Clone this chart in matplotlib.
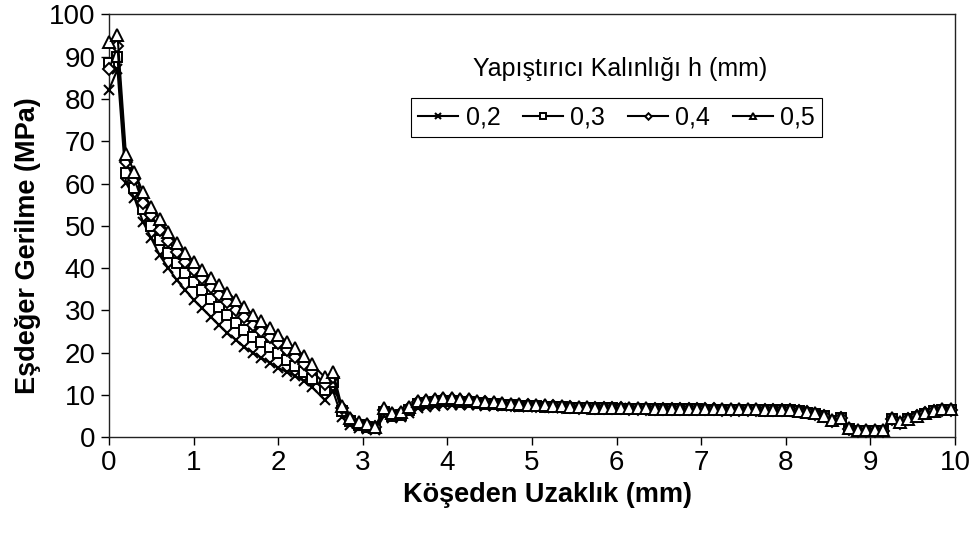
import matplotlib
matplotlib.use("Agg")
import matplotlib.pyplot as plt

plt.rcParams["font.family"] = ["Liberation Sans", "DejaVu Sans"]

# distance from the corner (mm)
x_mm = [0.0, 0.1, 0.2, 0.3, 0.4, 0.5, 0.6, 0.7, 0.8, 0.9,
        1.0, 1.1, 1.2, 1.3, 1.4, 1.5, 1.6, 1.7, 1.8, 1.9,
        2.0, 2.1, 2.2, 2.3, 2.4, 2.55, 2.65, 2.75, 2.85, 2.95,
        3.05, 3.15, 3.25, 3.35, 3.45, 3.55, 3.65, 3.75, 3.85, 3.95,
        4.05, 4.15, 4.25, 4.35, 4.45, 4.55, 4.65, 4.75, 4.85, 4.95,
        5.05, 5.15, 5.25, 5.35, 5.45, 5.55, 5.65, 5.75, 5.85, 5.95,
        6.05, 6.15, 6.25, 6.35, 6.45, 6.55, 6.65, 6.75, 6.85, 6.95,
        7.05, 7.15, 7.25, 7.35, 7.45, 7.55, 7.65, 7.75, 7.85, 7.95,
        8.05, 8.15, 8.25, 8.35, 8.45, 8.55, 8.65, 8.75, 8.85, 8.95,
        9.05, 9.15, 9.25, 9.35, 9.45, 9.55, 9.65, 9.75, 9.85, 9.95]

# equivalent stress (MPa) for each adhesive thickness
h02 = [82.2, 87.0, 60.2, 56.6, 51.0, 47.0, 43.0, 40.0, 37.2, 34.8,
       32.5, 30.5, 28.5, 26.5, 24.6, 23.0, 21.3, 20.0, 18.8, 17.6,
       16.4, 15.4, 14.5, 13.3, 11.8, 8.8, 10.8, 4.8, 2.9, 2.2,
       1.9, 1.6, 5.0, 4.5, 4.8, 5.8, 6.9, 7.2, 7.4, 7.6,
       7.7, 7.6, 7.7, 7.5, 7.4, 7.4, 7.3, 7.3, 7.2, 7.2,
       7.1, 7.1, 7.0, 7.0, 7.0, 6.9, 6.9, 6.9, 6.8, 6.8,
       6.8, 6.7, 6.7, 6.7, 6.7, 6.6, 6.6, 6.6, 6.6, 6.6,
       6.5, 6.5, 6.5, 6.5, 6.5, 6.5, 6.4, 6.4, 6.3, 6.3,
       6.3, 6.1, 5.8, 5.5, 4.9, 3.9, 4.4, 1.9, 1.5, 1.5,
       1.5, 1.5, 4.2, 3.3, 4.1, 4.8, 5.5, 6.0, 6.4, 6.4]
h03 = [88.6, 90.0, 62.5, 59.0, 54.0, 50.0, 46.7, 43.6, 41.2, 38.9,
       36.7, 34.8, 32.7, 30.8, 29.0, 27.1, 25.4, 23.8, 22.5, 21.3,
       19.9, 18.3, 16.8, 15.3, 13.8, 11.1, 13.0, 6.2, 3.8, 2.8,
       2.5, 2.1, 6.0, 5.1, 5.3, 6.4, 7.8, 8.1, 8.3, 8.5,
       8.5, 8.3, 8.4, 8.1, 7.9, 7.8, 7.6, 7.5, 7.4, 7.4,
       7.3, 7.2, 7.2, 7.1, 7.0, 7.0, 6.9, 6.9, 6.8, 6.8,
       6.7, 6.7, 6.7, 6.6, 6.6, 6.6, 6.6, 6.6, 6.6, 6.6,
       6.5, 6.5, 6.5, 6.5, 6.5, 6.5, 6.5, 6.4, 6.4, 6.4,
       6.3, 6.1, 5.8, 5.5, 4.9, 3.9, 4.4, 2.0, 1.5, 1.5,
       1.5, 1.5, 4.3, 3.4, 4.2, 4.8, 5.5, 6.1, 6.4, 6.5]
h04 = [87.0, 92.5, 65.0, 61.0, 55.5, 52.5, 49.0, 46.5, 43.8, 41.5,
       39.5, 37.6, 35.6, 33.7, 32.0, 30.1, 28.4, 26.6, 25.0, 23.7,
       22.3, 20.5, 19.0, 17.4, 15.6, 12.6, 14.2, 6.8, 4.2, 3.1,
       2.8, 2.3, 6.4, 5.4, 5.6, 6.8, 8.2, 8.5, 8.7, 8.9,
       8.9, 8.7, 8.7, 8.4, 8.2, 8.0, 7.8, 7.7, 7.6, 7.5,
       7.4, 7.4, 7.3, 7.2, 7.1, 7.0, 7.0, 6.9, 6.9, 6.8,
       6.8, 6.7, 6.7, 6.7, 6.7, 6.6, 6.6, 6.6, 6.6, 6.6,
       6.6, 6.6, 6.5, 6.5, 6.5, 6.5, 6.5, 6.5, 6.4, 6.4,
       6.3, 6.1, 5.9, 5.5, 4.9, 3.9, 4.4, 2.0, 1.5, 1.5,
       1.5, 1.5, 4.3, 3.4, 4.2, 4.9, 5.6, 6.1, 6.5, 6.5]
h05 = [93.5, 95.2, 67.0, 62.8, 58.0, 54.4, 51.5, 48.5, 46.0, 43.6,
       41.5, 39.6, 37.7, 36.0, 34.2, 32.5, 30.8, 29.0, 27.4, 25.8,
       24.2, 22.6, 21.0, 19.3, 17.2, 14.2, 15.3, 7.3, 4.6, 3.5,
       3.1, 2.5, 6.9, 5.7, 5.9, 7.1, 8.6, 8.8, 9.0, 9.2,
       9.2, 8.9, 9.0, 8.6, 8.4, 8.2, 8.0, 7.9, 7.8, 7.7,
       7.6, 7.5, 7.4, 7.3, 7.2, 7.1, 7.1, 7.0, 7.0, 6.9,
       6.9, 6.8, 6.8, 6.8, 6.7, 6.7, 6.7, 6.7, 6.7, 6.7,
       6.6, 6.6, 6.6, 6.6, 6.6, 6.6, 6.6, 6.5, 6.5, 6.4,
       6.4, 6.2, 5.9, 5.6, 5.0, 4.0, 4.5, 2.1, 1.6, 1.6,
       1.6, 1.6, 4.4, 3.5, 4.3, 5.0, 5.7, 6.2, 6.6, 6.6]

labels = ["0,2", "0,3", "0,4", "0,5"]
x_ticks = list(range(0, 11))
y_ticks = list(range(0, 101, 10))

fig = plt.figure(figsize=(9.75, 5.35), dpi=100)
ax = fig.add_axes([0.1118, 0.183, 0.8677, 0.790])

styles = [("x", 7.5, 1.5), ("s", 7, 1.4), ("D", 6, 1.4), ("^", 8, 1.4)]
for vals, lab, (mk, ms, mew) in zip([h02, h03, h04, h05], labels, styles):
    ax.plot(x_mm, vals, color="black", lw=1.5, marker=mk, ms=ms,
            mfc="white", mec="black", mew=mew, label=lab,
            clip_on=False, zorder=3)

ax.set_xlim(0, 10)
ax.set_ylim(0, 100)
ax.set_xticks(x_ticks)
ax.set_yticks(y_ticks)
ax.tick_params(direction="out", length=6, width=1, labelsize=20, colors="black")
for sp in ax.spines.values():
    sp.set_linewidth(1.0)
    sp.set_color("#222222")

ax.set_xlabel("Köşeden Uzaklık (mm)", fontsize=19.5, fontweight="bold")
ax.set_ylabel("Eşdeğer Gerilme (MPa)", fontsize=19.5, fontweight="bold")
ax.xaxis.set_label_coords(0.518, -0.107)
ax.yaxis.set_label_coords(-0.080, 0.453)

ax.text(0.604, 0.872, "Yapıştırıcı Kalınlığı h (mm)", transform=ax.transAxes,
        ha="center", va="center", fontsize=18)

leg = ax.legend(loc="center", bbox_to_anchor=(0.60, 0.756), ncol=4, fontsize=18,
                frameon=True, fancybox=False, framealpha=1, edgecolor="black",
                markerscale=0.55, handlelength=1.6, handletextpad=0.3,
                columnspacing=0.9, borderpad=0.3)
leg.get_frame().set_linewidth(0.8)

fig.savefig("out.png", dpi=100, facecolor="white")
